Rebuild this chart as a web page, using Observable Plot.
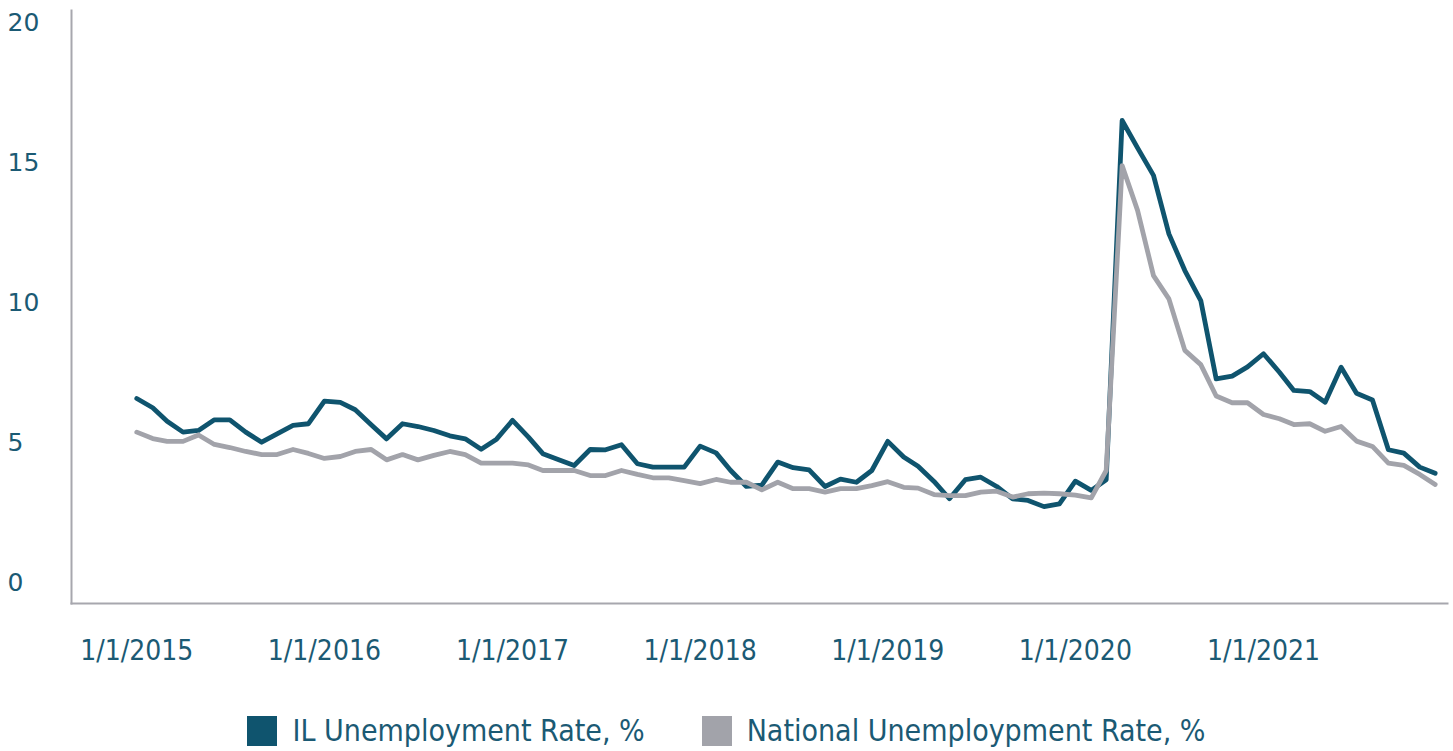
<!DOCTYPE html>
<html>
<head>
<meta charset="utf-8">
<script src="https://cdn.jsdelivr.net/npm/d3@7"></script>
<script src="https://cdn.jsdelivr.net/npm/@observablehq/plot@0.6"></script>
<style>
  body { margin: 0; background: #fff; }
  #legend { display: flex; justify-content: center; gap: 57px; margin-top: 33px;
            font-family: "DejaVu Sans Condensed", "DejaVu Sans", sans-serif; font-stretch: condensed;
            font-size: 30px; color: #1b5a74; }
  .item { display: flex; align-items: center; }
  .sw { width: 30px; height: 30px; margin-right: 15px; }
</style>
</head>
<body>
<div id="chart"></div>
<div id="legend"></div>
<script>
// Monthly observations, Jan 2015 – Dec 2021
const firstMonth = Date.UTC(2015, 0, 1);
const lastMonthExclusive = Date.UTC(2022, 0, 1);
const seriesNames = ["IL Unemployment Rate, %", "National Unemploypment Rate, %"];
const seriesColors = ["#0f546e", "#a2a3aa"];

const ilRate = [
  6.57, 6.24, 5.76, 5.37, 5.43, 5.81, 5.81, 5.37, 5.01, 5.31, 5.61, 5.67,
  6.48, 6.43, 6.17, 5.63, 5.13, 5.67, 5.57, 5.43, 5.24, 5.13, 4.76, 5.12,
  5.79, 5.19, 4.60, 4.38, 4.18, 4.75, 4.74, 4.92, 4.24, 4.12, 4.12, 4.12,
  4.87, 4.63, 4.01, 3.43, 3.48, 4.30, 4.10, 4.02, 3.43, 3.69, 3.58, 4.00,
  5.04, 4.48, 4.15, 3.61, 2.99, 3.67, 3.76, 3.43, 2.99, 2.93, 2.71, 2.81,
  3.62, 3.29, 3.67, 16.50, 15.52, 14.54, 12.45, 11.14, 10.07, 7.27, 7.37, 7.70,
  8.17, 7.51, 6.86, 6.82, 6.44, 7.69, 6.76, 6.52, 4.74, 4.62, 4.12, 3.90
];
const nationalRate = [
  5.37, 5.14, 5.04, 5.04, 5.27, 4.93, 4.82, 4.68, 4.57, 4.57, 4.75, 4.61,
  4.43, 4.50, 4.68, 4.75, 4.38, 4.57, 4.38, 4.54, 4.68, 4.57, 4.26, 4.26,
  4.26, 4.20, 4.00, 4.00, 4.00, 3.82, 3.82, 4.00, 3.86, 3.74, 3.74, 3.64,
  3.53, 3.68, 3.58, 3.58, 3.31, 3.58, 3.35, 3.35, 3.23, 3.35, 3.35, 3.46,
  3.60, 3.40, 3.37, 3.14, 3.10, 3.10, 3.23, 3.26, 3.05, 3.17, 3.19, 3.17,
  3.12, 3.02, 4.00, 14.89, 13.29, 10.96, 10.13, 8.29, 7.78, 6.66, 6.42, 6.42,
  6.00, 5.85, 5.64, 5.67, 5.40, 5.57, 5.05, 4.86, 4.26, 4.18, 3.86, 3.50
];
const yTicks = [0, 5, 10, 15, 20];
const xTickYears = [2015, 2016, 2017, 2018, 2019, 2020, 2021];

const months = d3.utcMonth.range(new Date(firstMonth), new Date(lastMonthExclusive));
const ilRows = months.map((d, i) => ({date: d, value: ilRate[i]}));
const natRows = months.map((d, i) => ({date: d, value: nationalRate[i]}));
const xTicks = xTickYears.map(y => new Date(Date.UTC(y, 0, 1)));

const H = 680;
const axisColor = "#a7a7ae";
const textColor = "#1b5a74";

const chart = Plot.plot({
  width: 1453,
  height: H,
  marginTop: 10,
  marginLeft: 71,
  marginRight: 6,
  marginBottom: H - 603,
  x: {type: "utc", domain: [new Date(Date.UTC(2014, 7, 27)), new Date(Date.UTC(2021, 11, 25))]},
  y: {domain: [-0.75, 20.4286]},
  style: {background: "#fff", color: textColor, fontFamily: "'DejaVu Sans', sans-serif"},
  marks: [
    Plot.axisY({ticks: yTicks, tickSize: 0, tickPadding: 3, textAnchor: "start", dx: -61,
                fontSize: 25, label: null, tickFormat: d => String(d), fill: textColor,
                fontFamily: "'DejaVu Sans', sans-serif"}),
    Plot.axisX({ticks: xTicks, tickSize: 0, tickPadding: 37, fontSize: 28, label: null,
                tickFormat: d => `1/1/${d.getUTCFullYear()}`, fill: textColor,
                fontFamily: "'DejaVu Sans Condensed', 'DejaVu Sans', sans-serif"}),
    Plot.line(ilRows, {x: "date", y: "value", stroke: seriesColors[0], strokeWidth: 4.8}),
    Plot.line(natRows, {x: "date", y: "value", stroke: seriesColors[1], strokeWidth: 4.8}),
    Plot.frame({anchor: "left", stroke: axisColor, strokeWidth: 2}),
    Plot.frame({anchor: "bottom", stroke: axisColor, strokeWidth: 2})
  ]
});
document.getElementById("chart").appendChild(chart);

const legend = document.getElementById("legend");
seriesNames.forEach((name, i) => {
  const item = document.createElement("div");
  item.className = "item";
  const sw = document.createElement("div");
  sw.className = "sw";
  sw.style.background = seriesColors[i];
  const label = document.createElement("span");
  label.textContent = name;
  item.appendChild(sw);
  item.appendChild(label);
  legend.appendChild(item);
});
</script>
</body>
</html>
